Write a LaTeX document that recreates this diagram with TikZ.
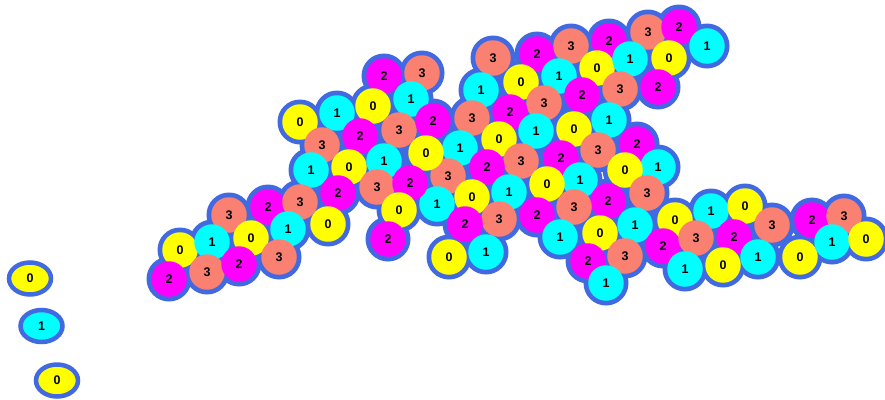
\documentclass[tikz,border=0pt]{standalone}
\usepackage{fontspec}
\setmainfont{Liberation Sans}
\usetikzlibrary{shapes.geometric}
\definecolor{col0}{RGB}{255,255,0}
\definecolor{col1}{RGB}{0,255,255}
\definecolor{col2}{RGB}{255,0,255}
\definecolor{col3}{RGB}{250,128,114}
\definecolor{edgeblue}{RGB}{65,105,225}
\tikzset{
  cellbody/.style={circle, inner sep=0pt, minimum size=35.5pt, text=black,
    font=\fontsize{12.5}{12.5}\selectfont\bfseries},
  loneegg/.style={ellipse, inner sep=0pt, minimum width=42pt, minimum height=32pt,
    draw=edgeblue, line width=4.5pt, text=black, font=\fontsize{12.5}{12.5}\selectfont\bfseries}
}
\def\cells{%
493/58/3, 537/54/2, 571/46/3, 609/41/2, 648/32/3, 679/27/2, 707/46/1,
481/90/1, 521/82/0, 559/76/1, 597/68/0, 630/59/1, 669/58/0,
658/87/2, 620/89/3, 582/95/2, 544/103/3, 510/112/2, 472/118/3,
609/120/1, 574/129/0, 536/131/1, 499/139/0, 460/148/1,
637/144/2, 598/150/3, 561/158/2, 521/161/3, 487/167/2, 448/176/3,
658/167/1, 625/170/0, 580/180/1, 547/184/0, 509/192/1, 472/197/0, 437/204/1,
647/193/3, 608/201/2, 574/207/3, 537/215/2, 499/219/3, 465/224/2,
486/252/1, 449/257/0,
675/220/0, 635/225/1, 600/233/0, 560/237/1,
663/246/2, 625/256/3, 588/261/2, 606/283/1,
711/211/1, 745/206/0, 696/238/3, 734/237/2, 772/225/3, 812/220/2, 844/216/3,
685/269/1, 723/265/0, 758/257/1, 800/257/0, 832/242/1, 866/239/0,
384/76/2, 422/73/3,
300/122/0, 337/113/1, 373/106/0, 411/99/1,
322/145/3, 360/136/2, 399/130/3, 433/121/2,
311/170/1, 349/167/0, 384/161/1, 426/153/0,
229/215/3, 268/207/2, 300/202/3, 338/193/2, 377/187/3, 410/183/2,
180/250/0, 212/242/1, 251/238/0, 288/229/1, 328/224/0,
399/210/0, 388/239/2,
169/279/2, 207/272/3, 239/264/2, 279/257/3}
\begin{document}
\begin{tikzpicture}[x=1pt,y=-1pt]
\fill[white] (0,0) rectangle (885,399);
\useasboundingbox (0,0) rectangle (885,399);
\foreach \x/\y/\d in \cells { \fill[edgeblue] (\x,\y) circle (22.5pt); }
\foreach \x/\y/\d in \cells { \node[cellbody, fill=col\d] (c-\x-\y) at (\x,\y) {\d}; }
\node[loneegg, fill=col0] (e1) at (30,278.5) {0};
\node[loneegg, fill=col1] (e2) at (41.5,326) {1};
\node[loneegg, fill=col0] (e3) at (57,380.5) {0};
\end{tikzpicture}
\end{document}
